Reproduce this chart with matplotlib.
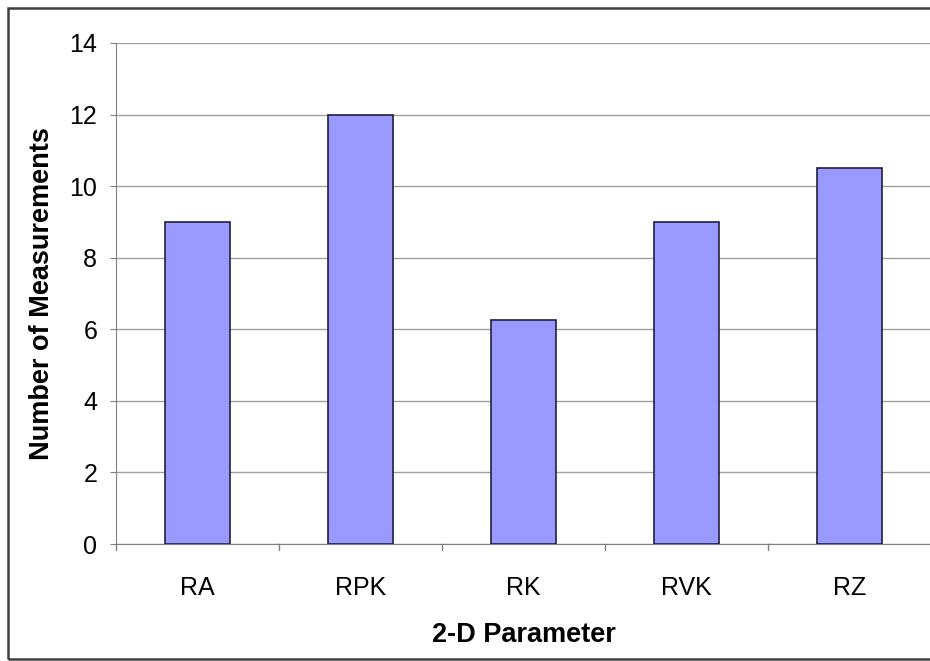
import numpy as np
import matplotlib.pyplot as plt
from matplotlib.patches import Rectangle

categories = ['RA', 'RPK', 'RK', 'RVK', 'RZ']
counts = [9, 12, 6.25, 9, 10.5]
yticks = [0, 2, 4, 6, 8, 10, 12, 14]

plt.rcParams['font.family'] = ['Liberation Sans', 'DejaVu Sans']

W, H = 930, 661
fig = plt.figure(figsize=(W / 100, H / 100), dpi=100)
fig.patch.set_facecolor('white')

# outer chart border (right side runs off the image)
fig.patches.append(Rectangle((8 / W, 1 - 659 / H), 1.0, (659 - 8) / H,
                             transform=fig.transFigure, fill=False,
                             edgecolor='#404040', linewidth=1.8))

ax = fig.add_axes([116 / W, 1 - 544 / H, (931 - 116) / W, (544 - 43) / H])
x = np.arange(len(categories))
ax.bar(x, counts, width=0.4, color='#9999ff', edgecolor='#1f1f3f',
       linewidth=1.2, zorder=3)

ax.set_xlim(-0.5, len(categories) - 0.5)
ax.set_ylim(0, 14)
ax.set_yticks(yticks)
ax.set_yticklabels([str(v) for v in yticks], fontsize=18)
ax.set_xticks(x)
ax.set_xticklabels(categories, fontsize=18)
ax.tick_params(axis='x', length=0, pad=23)
ax.tick_params(axis='y', length=4.5, color='#808080', pad=9)
# ticks between categories on the x axis
for b in np.arange(-0.5, len(categories), 1.0):
    ax.plot([b, b], [0, -0.18], color='#808080', lw=1, clip_on=False)

ax.yaxis.grid(True, color='#a0a0a0', linewidth=1)
ax.set_axisbelow(True)
for s in ['top', 'right']:
    ax.spines[s].set_visible(False)
ax.spines['left'].set_color('#808080')
ax.spines['bottom'].set_color('#808080')

ax.set_ylabel('Number of Measurements', fontsize=19.5, fontweight='bold')
ax.set_xlabel('2-D Parameter', fontsize=19.5, fontweight='bold')
ax.yaxis.set_label_coords(-0.075, 0.5)
ax.xaxis.set_label_coords(0.5, -0.155)

fig.savefig('out.png', dpi=100, facecolor='white')
